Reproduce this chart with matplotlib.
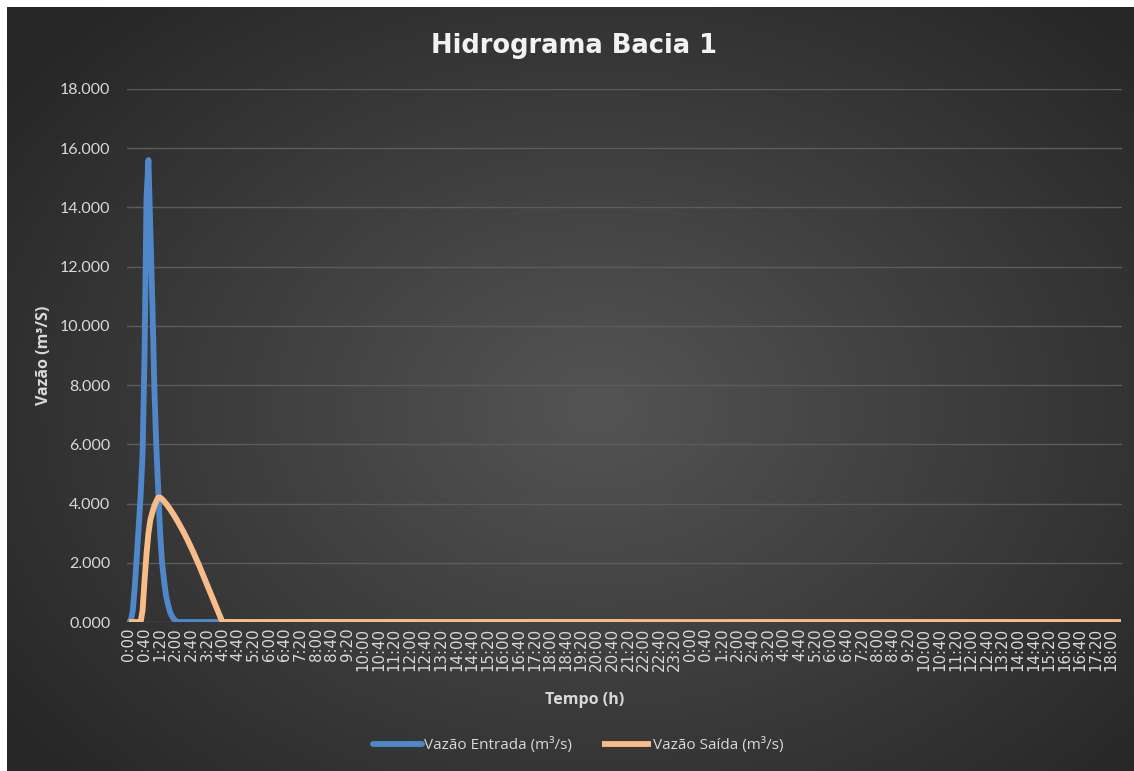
import matplotlib
matplotlib.use("Agg")
import matplotlib.pyplot as plt
import numpy as np

# passo de tempo de 5 min, de 0:00 (dia 1) ate 18:25 (dia 2)
passo_min = 5
n_pontos = 510

# Vazao de entrada (m3/s), 0:00 ate 2:00, depois zero ate 21:20
entrada_inicio = [0.0, 0.05, 0.4, 1.2, 2.2, 3.2, 4.3, 5.7, 9.0, 14.3, 15.6,
                  13.2, 10.8, 8.0, 6.0, 4.5, 3.0, 2.0, 1.4, 0.9, 0.6, 0.35,
                  0.2, 0.1, 0.03]
entrada = entrada_inicio + [0.0] * (257 - len(entrada_inicio))

# Vazao de saida (m3/s), 0:00 ate 4:00, depois zero
saida_inicio = [0.0, 0.0, 0.0, 0.0, 0.0, 0.0, 0.0, 0.4, 1.4, 2.3, 3.0, 3.45,
                3.7, 3.92, 4.07, 4.2, 4.2, 4.15, 4.08, 4.0, 3.91, 3.82, 3.72,
                3.62, 3.51, 3.4, 3.28, 3.16, 3.04, 2.91, 2.78, 2.64, 2.5,
                2.36, 2.21, 2.06, 1.91, 1.75, 1.59, 1.43, 1.27, 1.11, 0.95,
                0.79, 0.63, 0.47, 0.31, 0.15, 0.0]
saida = saida_inicio + [0.0] * (n_pontos - len(saida_inicio))

minutos = np.arange(n_pontos) * passo_min
ticks_min = np.arange(0, 2521, 40)
tick_labels = [f"{(m % 1440) // 60}:{m % 60:02d}" for m in ticks_min]
y_ticks = np.arange(0, 19, 2)

azul = "#4f87c9"
laranja = "#f8bc88"
texto = "#d9d9d9"

fig = plt.figure(figsize=(11.34, 7.71), dpi=100)
fig.patch.set_facecolor("white")

# fundo com gradiente radial (estilo Excel), borda branca so em cima e a esquerda
bg = fig.add_axes([7 / 1134, 0, 1 - 7 / 1134, 1 - 7 / 771])
yy, xx = np.mgrid[0:764, 0:1127]
r = np.sqrt(((xx - 590) / 700.0) ** 2 + ((yy - 400) / 520.0) ** 2)
val = np.clip(0.33 - 0.17 * r, 0.15, 0.33)
bg.imshow(np.dstack([val, val, val]), aspect="auto", interpolation="bilinear",
          extent=[0, 1, 0, 1])
bg.set_xlim(0, 1)
bg.set_ylim(0, 1)
bg.axis("off")

ax = fig.add_axes([127 / 1134, 1 - 622 / 771, (1122 - 127) / 1134, (622 - 89) / 771])
ax.set_facecolor("none")

ax.plot(minutos[:len(entrada)], entrada, color=azul, lw=4.2,
        solid_joinstyle="round", solid_capstyle="round", zorder=3,
        label="Vazão Entrada (m³/s)")
ax.plot(minutos, saida, color=laranja, lw=4.2, solid_joinstyle="round",
        solid_capstyle="butt", zorder=4, label="Vazão Saída (m³/s)")

ax.set_xlim(-passo_min, minutos[-1] + passo_min / 2)
ax.set_ylim(0, 18)
ax.set_yticks(y_ticks)
ax.set_yticklabels([f"{v:.3f}" for v in y_ticks], fontsize=11.5, color=texto,
                   family="Lato")
ax.set_xticks(ticks_min)
ax.set_xticklabels(tick_labels, rotation=90, fontsize=10.8, color=texto,
                   family="DejaVu Sans")
ax.tick_params(axis="x", length=0, pad=4)
ax.tick_params(axis="y", length=0, pad=12)
ax.grid(axis="y", color="#5c5c5c", lw=1)
ax.set_axisbelow(True)
for s in ax.spines.values():
    s.set_visible(False)

ax.set_ylabel("Vazão (m³/S)", fontsize=11.5, fontweight="bold", color=texto,
              family="Open Sans")
ax.yaxis.set_label_coords((52 - 127) / 995, 0.5)
ax.set_xlabel("Tempo (h)", fontsize=11.5, fontweight="bold", color=texto,
              family="Open Sans")
ax.xaxis.set_label_coords((585 - 127) / 995, (622 - 692) / 533)

fig.text(574 / 1134, 1 - 46 / 771, "Hidrograma Bacia 1", ha="center", va="center",
         fontsize=18.5, fontweight="bold", color="#f2f2f2", family="DejaVu Sans")

leg = fig.legend(loc="center", bbox_to_anchor=(0.51, 1 - 745 / 771), ncol=2,
                 frameon=False, handlelength=3.2, handletextpad=0.1,
                 columnspacing=2.0, prop={"family": "Open Sans", "size": 11})
for t in leg.get_texts():
    t.set_color(texto)

fig.savefig("out.png", dpi=100, facecolor=fig.get_facecolor())
